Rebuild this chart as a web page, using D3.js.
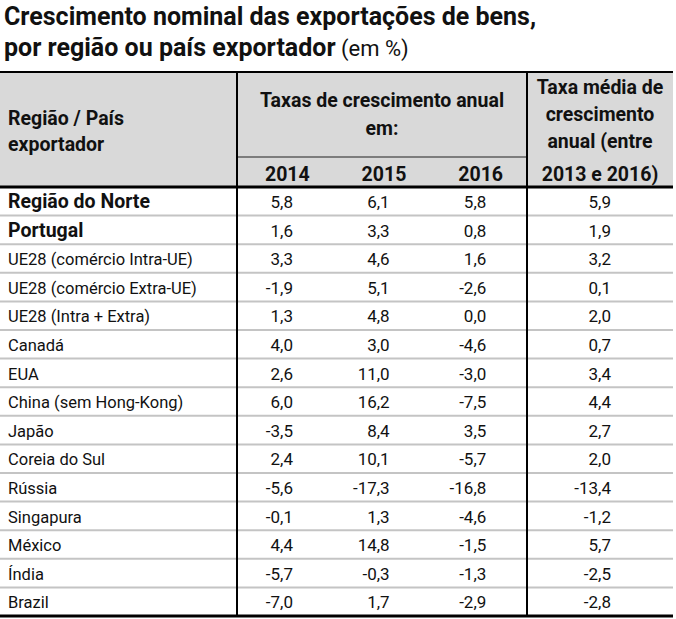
<!DOCTYPE html>
<html>
<head>
<meta charset="utf-8">
<script src="https://cdn.jsdelivr.net/npm/d3@7"></script>
<style>
  body { margin: 0; background: #fff; }
  text { font-family: Roboto, "Noto Sans", sans-serif; fill: #111; }
</style>
</head>
<body>
<div id="table"></div>
<script>
// data
var regions = ["Região do Norte", "Portugal", "UE28 (comércio Intra-UE)", "UE28 (comércio Extra-UE)",
  "UE28 (Intra + Extra)", "Canadá", "EUA", "China (sem Hong-Kong)", "Japão", "Coreia do Sul",
  "Rússia", "Singapura", "México", "Índia", "Brazil"];
var years = ["2014", "2015", "2016"];
var v2014 = [5.8, 1.6, 3.3, -1.9, 1.3, 4.0, 2.6, 6.0, -3.5, 2.4, -5.6, -0.1, 4.4, -5.7, -7.0];
var v2015 = [6.1, 3.3, 4.6, 5.1, 4.8, 3.0, 11.0, 16.2, 8.4, 10.1, -17.3, 1.3, 14.8, -0.3, 1.7];
var v2016 = [5.8, 0.8, 1.6, -2.6, 0.0, -4.6, -3.0, -7.5, 3.5, -5.7, -16.8, -4.6, -1.5, -1.3, -2.9];
var avg1316 = [5.9, 1.9, 3.2, 0.1, 2.0, 0.7, 3.4, 4.4, 2.7, 2.0, -13.4, -1.2, 5.7, -2.5, -2.8];
var boldRows = ["Região do Norte", "Portugal"];

var width = 676,
    height = 619;

var left = 0, right = 673,
    div1 = 237, div2 = 527,
    headTop = 72, subLine = 157, headBottom = 187, tableBottom = 616;

var fmt = d3.formatLocale({ decimal: ",", thousands: ".", grouping: [3], currency: ["", "€"], minus: "-" }).format(".1f");

var svg = d3.select("#table").append("svg")
    .attr("width", width)
    .attr("height", height);

// title
svg.append("text").attr("x", 4).attr("y", 25)
    .style("font-size", "25px").style("font-weight", "bold")
    .text("Crescimento nominal das exportações de bens,");
var t2 = svg.append("text").attr("x", 4).attr("y", 56);
t2.append("tspan").style("font-size", "25px").style("font-weight", "bold").text("por região ou país exportador");
t2.append("tspan").style("font-size", "22px").text(" (em %)");

// header background
svg.append("rect")
    .attr("x", left).attr("y", headTop)
    .attr("width", right - left).attr("height", headBottom - headTop)
    .attr("fill", "#d9d9d9");

var y = d3.scaleBand().domain(regions).range([headBottom, tableBottom]);

var yearX = d3.scaleBand().domain(years).range([div1, div2]);

// row separators
svg.selectAll(".sep")
    .data(regions.slice(1))
    .enter().append("line")
    .attr("class", "sep")
    .attr("x1", left).attr("x2", right)
    .attr("y1", function (d) { return y(d); })
    .attr("y2", function (d) { return y(d); })
    .attr("stroke", "#c4c4c4")
    .attr("stroke-width", 2);

// header texts
var hs = "19.5px";
svg.append("text").attr("x", 8).attr("y", 125).style("font-size", hs).style("font-weight", "bold").text("Região / País");
svg.append("text").attr("x", 8).attr("y", 151).style("font-size", hs).style("font-weight", "bold").text("exportador");

var mid = (div1 + div2) / 2;
svg.append("text").attr("x", mid).attr("y", 107).attr("text-anchor", "middle")
    .style("font-size", hs).style("font-weight", "bold").text("Taxas de crescimento anual");
svg.append("text").attr("x", mid).attr("y", 135).attr("text-anchor", "middle")
    .style("font-size", hs).style("font-weight", "bold").text("em:");

var lastMid = (div2 + right) / 2;
var avgHead = ["Taxa média de", "crescimento", "anual (entre", "2013 e 2016)"];
svg.selectAll(".avghead")
    .data(avgHead)
    .enter().append("text")
    .attr("x", lastMid)
    .attr("y", function (d, i) { return i < 3 ? 94 + i * 27 : 181; })
    .attr("text-anchor", "middle")
    .style("font-size", hs).style("font-weight", "bold")
    .text(function (d) { return d; });

svg.selectAll(".year")
    .data(years)
    .enter().append("text")
    .attr("x", function (d) { return yearX(d) + yearX.bandwidth() / 2 + 2; })
    .attr("y", 181)
    .attr("text-anchor", "middle")
    .style("font-size", hs).style("font-weight", "bold")
    .text(function (d) { return d; });

// body
var rows = svg.selectAll(".row")
    .data(regions)
    .enter().append("g")
    .attr("class", "row")
    .attr("transform", function (d) { return "translate(0," + y(d) + ")"; });

rows.append("text")
    .attr("x", 8).attr("y", 21)
    .style("font-size", function (d) { return boldRows.indexOf(d) >= 0 ? "19.5px" : "16.5px"; })
    .style("font-weight", function (d) { return boldRows.indexOf(d) >= 0 ? "bold" : "normal"; })
    .text(function (d) { return d; });

var series = [v2014, v2015, v2016];
series.forEach(function (vals, j) {
    rows.append("text")
        .attr("x", yearX(years[j]) + 56)
        .attr("y", 21)
        .attr("text-anchor", "end")
        .style("font-size", "17px")
        .text(function (d, i) { return fmt(vals[i]); });
});

rows.append("text")
    .attr("x", div2 + 84).attr("y", 21)
    .attr("text-anchor", "end")
    .style("font-size", "17px")
    .text(function (d, i) { return fmt(avg1316[i]); });

// borders
svg.append("line").attr("x1", div1).attr("x2", div2).attr("y1", subLine).attr("y2", subLine)
    .attr("stroke", "#222").attr("stroke-width", 1.2);
[headTop, headBottom, tableBottom].forEach(function (yy, i) {
    svg.append("line").attr("x1", left).attr("x2", right).attr("y1", yy).attr("y2", yy)
        .attr("stroke", "#000").attr("stroke-width", i === 0 ? 2 : 3);
});
[div1, div2].forEach(function (xx) {
    svg.append("line").attr("x1", xx).attr("x2", xx).attr("y1", headTop).attr("y2", tableBottom)
        .attr("stroke", "#000").attr("stroke-width", 2);
});
</script>
</body>
</html>
